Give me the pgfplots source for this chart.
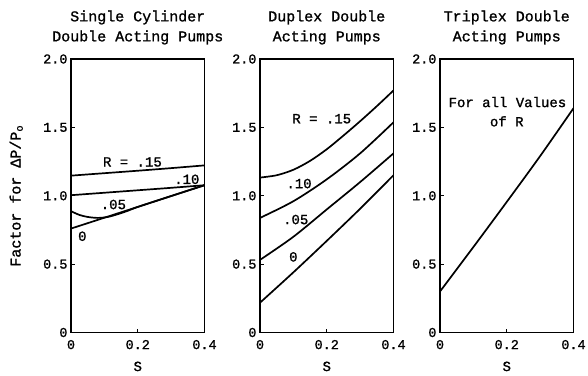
\documentclass[border=0pt]{standalone}
\usepackage{fontspec}
\setmainfont{Liberation Mono}[FakeBold=1.2]
\usepackage{pgfplots}
\pgfplotsset{compat=1.18}
\tikzset{lbl/.style={font=\fontsize{14}{16}\selectfont, inner sep=0pt}}
\begin{document}
\begin{tikzpicture}
\path[use as bounding box] (0pt,0pt) rectangle (588pt,375pt);
\pgfplotsset{
 panel/.style={
  scale only axis, width=133.5pt, height=273.5pt,
  xmin=0, xmax=0.4, ymin=0, ymax=2,
  xtick={0,0.2,0.4}, ytick={0,0.5,1,1.5,2},
  xticklabels={0,0.2,0.4}, yticklabels={0,0.5,1.0,1.5,2.0},
  tick align=inside, tick pos=left,
  major tick length=4pt,
  tick style={line width=0.8pt, black},
  axis line style={line width=1.4pt},
  ticklabel style={font=\fontsize{13.5}{14}\selectfont},
  xticklabel style={yshift=-4pt},
  /pgf/number format/assume math mode=true,
  title style={align=center, font=\fontsize{15}{20}\selectfont, yshift=5pt},
  xlabel={S},
  xlabel style={font=\fontsize{14}{16}\selectfont, at={(axis description cs:0.5,-0.124)}, anchor=center},
  anchor=south west,
  cycle list={black,mark=none,line width=1.7pt\\},
 },
}
% Panel 1
\begin{axis}[panel, at={(71pt,42.5pt)},
  title={Single Cylinder\\Double Acting Pumps},
  ylabel={Factor for ΔP/P\textsubscript{o}},
  ylabel style={font=\fontsize{15}{16}\selectfont, at={(axis description cs:-0.41,0.5)}, anchor=center}]
\addplot+[smooth] coordinates {(0,1.147) (0.1,1.165) (0.2,1.183) (0.3,1.202) (0.4,1.222)};
\addplot+[smooth] coordinates {(0,1.004) (0.1,1.022) (0.2,1.040) (0.3,1.058) (0.4,1.077)};
\addplot+[smooth] coordinates {(0,0.887) (0.025,0.860) (0.05,0.845) (0.08,0.838) (0.11,0.845) (0.14,0.865) (0.17,0.890) (0.2,0.918) (0.3,0.998) (0.4,1.077)};
\addplot coordinates {(0,0.760) (0.4,1.077)};
\node[lbl] at (axis cs:0.184,1.247) {R = .15};
\node[lbl] at (axis cs:0.347,1.12) {.10};
\node[lbl] at (axis cs:0.127,0.936) {.05};
\node[lbl] at (axis cs:0.034,0.704) {0};
\end{axis}
% Panel 2
\begin{axis}[panel, at={(260pt,42.5pt)},
  title={Duplex Double\\Acting Pumps}]
\addplot+[smooth] coordinates {(0,1.133) (0.05,1.150) (0.1,1.19) (0.15,1.255) (0.2,1.34) (0.25,1.44) (0.3,1.545) (0.35,1.655) (0.4,1.77)};
\addplot+[smooth] coordinates {(0,0.838) (0.1,0.96) (0.2,1.12) (0.3,1.31) (0.4,1.537)};
\addplot+[smooth] coordinates {(0,0.531) (0.1,0.70) (0.2,0.90) (0.3,1.10) (0.4,1.31)};
\addplot+[smooth] coordinates {(0,0.218) (0.1,0.44) (0.2,0.67) (0.3,0.905) (0.4,1.15)};
\node[lbl] at (axis cs:0.185,1.563) {R = .15};
\node[lbl] at (axis cs:0.117,1.089) {.10};
\node[lbl] at (axis cs:0.107,0.826) {.05};
\node[lbl] at (axis cs:0.10,0.553) {0};
\end{axis}
% Panel 3
\begin{axis}[panel, at={(440pt,42.5pt)},
  title={Triplex Double\\Acting Pumps}]
\addplot+[smooth] coordinates {(0,0.30) (0.1,0.625) (0.2,0.955) (0.3,1.29) (0.4,1.64)};
\node[lbl] at (axis cs:0.202,1.685) {For all Values};
\node[lbl] at (axis cs:0.20,1.544) {of R};
\end{axis}
\end{tikzpicture}
\end{document}
